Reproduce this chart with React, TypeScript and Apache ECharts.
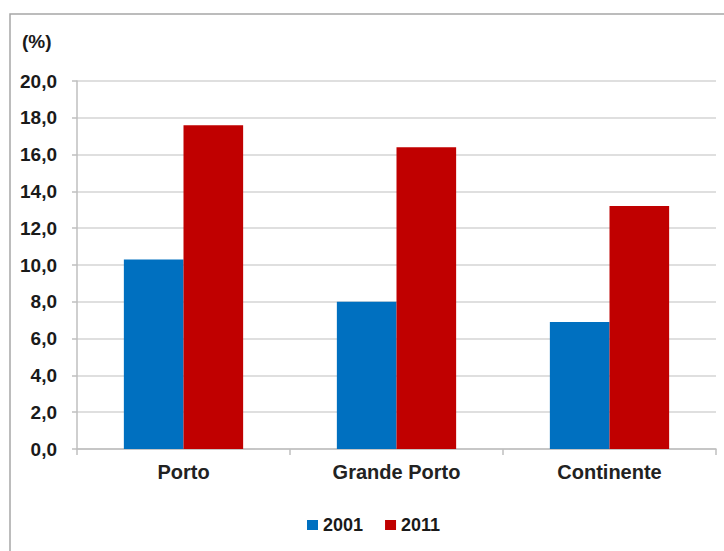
import React, { useEffect, useRef } from "react";
import * as echarts from "echarts";

const categories = ["Porto", "Grande Porto", "Continente"];
const values2001 = [10.3, 8.0, 6.9];
const values2011 = [17.6, 16.4, 13.2];
const seriesNames = ["2001", "2011"];

export default function App() {
  const ref = useRef<HTMLDivElement>(null);
  useEffect(() => {
    const chart = echarts.init(ref.current!, null, { renderer: "svg" });
    const font = "'Liberation Sans', Arial, sans-serif";
    chart.setOption({
      animation: false,
      backgroundColor: "#ffffff",
      textStyle: { fontFamily: font },
      graphic: [
        {
          type: "rect",
          shape: { x: 10, y: 14, width: 740, height: 580 },
          style: { fill: "none", stroke: "#a6a6a6", lineWidth: 1.5 },
          silent: true,
        },
        {
          type: "text",
          left: 22,
          top: 32,
          style: { text: "(%)", font: `bold 19px ${font}`, fill: "#1a1a1a" },
        },
      ],
      legend: {
        data: seriesNames,
        top: 511,
        left: 302,
        itemWidth: 11,
        itemHeight: 10,
        itemGap: 22,
        icon: "rect",
        textStyle: { fontSize: 18, fontWeight: "bold", color: "#1a1a1a", fontFamily: font },
      },
      grid: { left: 77, right: 8, top: 81, bottom: 102, containLabel: false },
      xAxis: {
        type: "category",
        data: categories,
        axisLine: { show: true, lineStyle: { color: "#bfbfbf", width: 1.5 } },
        axisTick: { show: true, length: 6, lineStyle: { color: "#bfbfbf", width: 1.5 } },
        axisLabel: {
          fontSize: 20,
          fontWeight: "bold",
          color: "#222222",
          margin: 13,
          fontFamily: font,
        },
      },
      yAxis: {
        type: "value",
        min: 0,
        max: 20,
        interval: 2,
        axisLine: { show: true, lineStyle: { color: "#bfbfbf", width: 1.5 } },
        axisTick: { show: true, length: 5, lineStyle: { color: "#bfbfbf", width: 1.5 } },
        axisLabel: {
          fontSize: 19,
          fontWeight: "bold",
          color: "#1a1a1a",
          margin: 20,
          fontFamily: font,
          formatter: (v: number) => v.toFixed(1).replace(".", ","),
        },
        splitLine: { show: true, lineStyle: { color: "#d4d4d4", width: 1.5 } },
      },
      series: [
        {
          name: seriesNames[0],
          type: "bar",
          data: values2001,
          itemStyle: { color: "#0070c0" },
          barGap: "0%",
          barCategoryGap: "44%",
        },
        {
          name: seriesNames[1],
          type: "bar",
          data: values2011,
          itemStyle: { color: "#c00000" },
          barGap: "0%",
          barCategoryGap: "44%",
        },
      ],
    });
    return () => chart.dispose();
  }, []);
  return (
    <div
      ref={ref}
      style={{ position: "fixed", left: 0, top: 0, width: 724, height: 551 }}
    />
  );
}
